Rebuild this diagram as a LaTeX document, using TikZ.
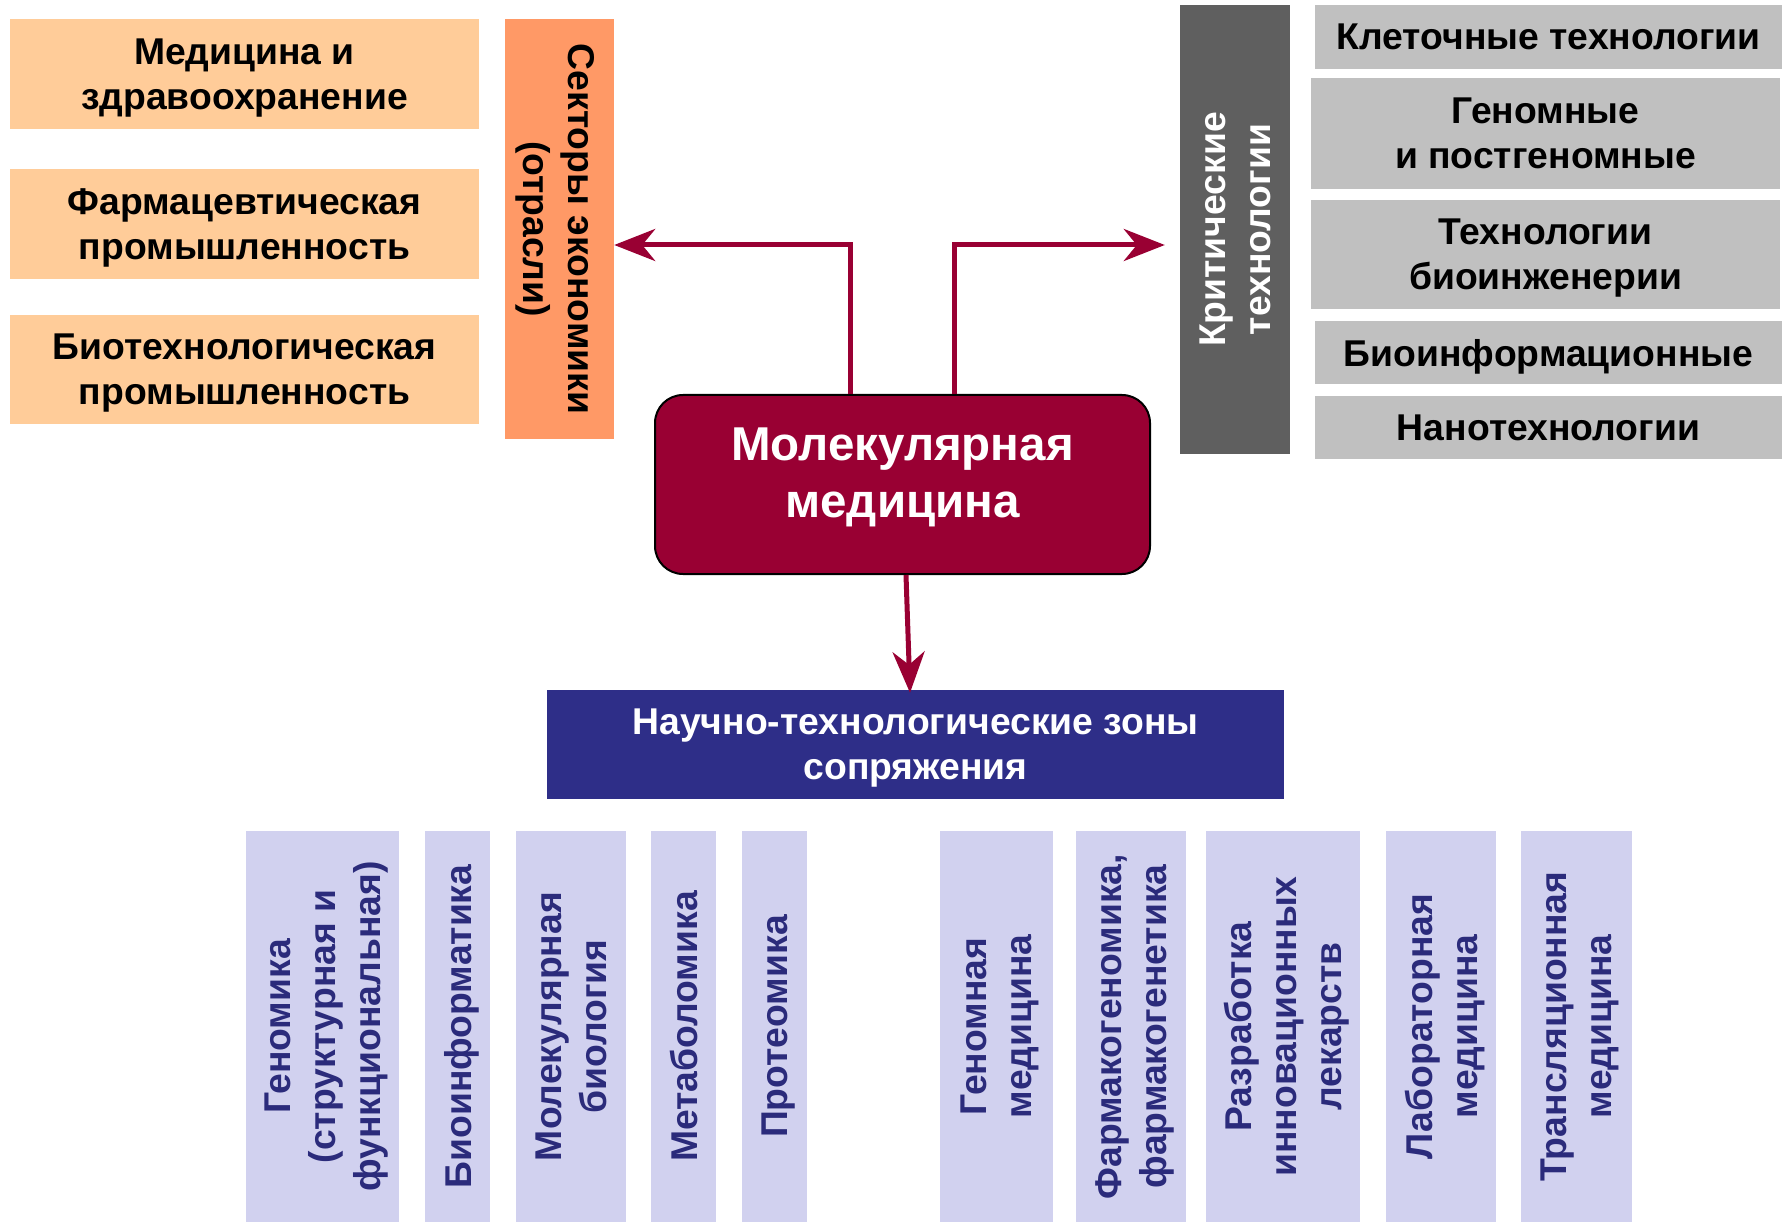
\documentclass[tikz,border=0pt]{standalone}
\usepackage{fontspec}
\setmainfont{Liberation Sans}
\usetikzlibrary{arrows.meta}
\definecolor{peachc}{HTML}{FFCC99}
\definecolor{sectorc}{HTML}{FF9966}
\definecolor{critc}{HTML}{5F5F5F}
\definecolor{techc}{HTML}{C0C0C0}
\definecolor{molc}{HTML}{990033}
\definecolor{zonec}{HTML}{2E2E88}
\definecolor{fieldc}{HTML}{D1D1EF}
\definecolor{fieldtxt}{HTML}{2B2B7B}
\tikzset{
  box/.style={inner sep=0pt, align=center, text depth=0pt, font=\fontsize{37.3}{45}\selectfont\bfseries},
  branch/.style={box, fill=peachc, minimum width=469},
  tech/.style={box, fill=techc},
  field/.style={box, fill=fieldc, text=fieldtxt, rotate=90, minimum width=391},
  arr/.style={draw=molc, line width=5pt, -{Stealth[length=41pt,width=32pt,inset=13pt]}}
}
\begin{document}
\begin{tikzpicture}[x=1pt,y=-1pt]
                \useasboundingbox (0,0) rectangle (1783,1222);

                % branches of economy
                \node[branch, minimum height=110] (med) at (244.5,74) {Медицина и\\здравоохранение};
                \node[branch, minimum height=110] (pharm) at (244.5,224) {Фармацевтическая\\промышленность};
                \node[branch, minimum height=109] (biotech) at (244.5,369.5) {Биотехнологическая\\промышленность};
                \node[box, fill=sectorc, rotate=-90, minimum width=420, minimum height=109] (sect) at (559.5,229) {Секторы экономики\\(отрасли)};

                % critical technologies
                \node[box, fill=critc, text=white, rotate=90, minimum width=449, minimum height=110] (crit) at (1235,229.5) {Критические\\технологии};
                \node[tech, minimum width=467, minimum height=64] (cell) at (1548.5,37) {Клеточные технологии};
                \node[tech, minimum width=469, minimum height=111] (genom) at (1545.5,133.5) {Геномные\\и постгеномные};
                \node[tech, minimum width=469, minimum height=109] (bioeng) at (1545.5,254.5) {Технологии\\биоинженерии};
                \node[tech, minimum width=467, minimum height=63] (bioinf) at (1548.5,352.5) {Биоинформационные};
                \node[tech, minimum width=467, minimum height=63] (nano) at (1548.5,427.5) {Нанотехнологии};

                % centre
                \node[draw=black, line width=2pt, fill=molc, rounded corners=28pt, minimum width=495, minimum height=179] (mol) at (902.5,484.5) {};
                \node[box, text=white, font=\fontsize{47.5}{57}\selectfont\bfseries] (moltxt) at ([yshift=12]mol.center) {Молекулярная\\медицина};
                \node[box, fill=zonec, text=white, minimum width=737, minimum height=109] (zone) at (915.5,744.5) {Научно-технологические зоны\\сопряжения};

                \draw[arr] ([xshift=-52.5]mol.north) |- ([yshift=-16]sect.north);
                \draw[arr] ([xshift=51.5]mol.north) |- ([xshift=-15,yshift=-15.5]crit.north);
                \draw[arr] ([xshift=3.5]mol.south) -- ([xshift=-5.5,yshift=-3]zone.north);

                % zones
                \node[field, minimum height=153] (genomics) at (322.5,1026.5) {Геномика\\(структурная и\\функциональная)};
                \node[field, minimum height=65] (bioinfo) at (457.5,1026.5) {Биоинформатика};
                \node[field, minimum height=110] (molbio) at (571,1026.5) {Молекулярная\\биология};
                \node[field, minimum height=65] (metab) at (683.5,1026.5) {Метаболомика};
                \node[field, minimum height=65] (prot) at (774.5,1026.5) {Протеомика};
                \node[field, minimum height=113] (genmed) at (996.5,1026.5) {Геномная\\медицина};
                \node[field, minimum height=110] (pgx) at (1131,1026.5) {Фармакогеномика,\\фармакогенетика};
                \node[field, minimum height=154] (drugs) at (1283,1026.5) {Разработка\\инновационных\\лекарств};
                \node[field, minimum height=110] (labmed) at (1441,1026.5) {Лабораторная\\медицина};
                \node[field, minimum height=111] (transl) at (1576.5,1026.5) {Трансляционная\\медицина};

\end{tikzpicture}
\end{document}
